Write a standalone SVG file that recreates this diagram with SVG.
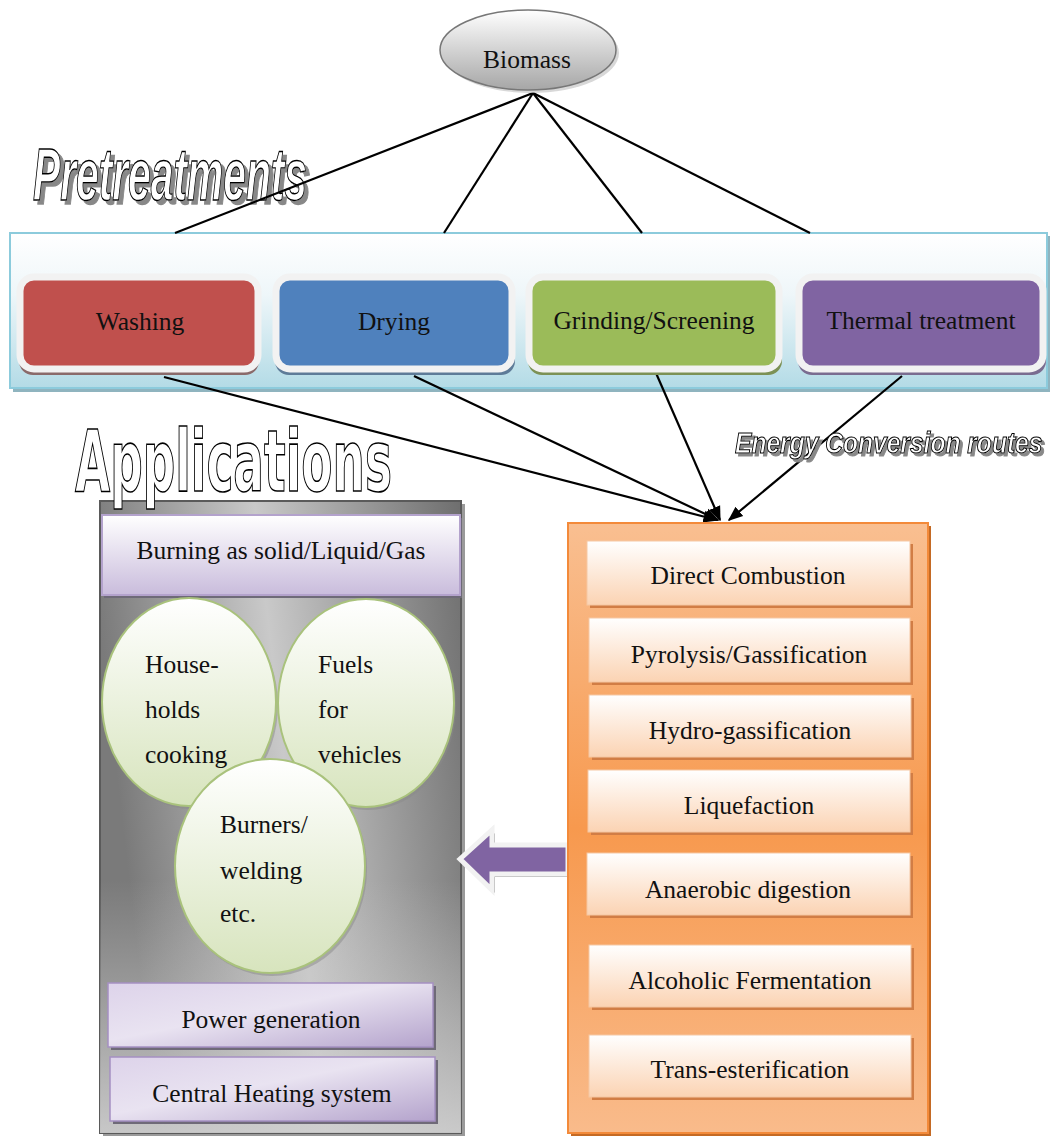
<svg xmlns="http://www.w3.org/2000/svg" width="1055" height="1136" viewBox="0 0 1055 1136">
<defs>
<linearGradient id="gBio" x1="0" y1="0" x2="0" y2="1"><stop offset="0" stop-color="#ffffff"/><stop offset="1" stop-color="#a6a6a6"/></linearGradient>
<linearGradient id="gPre" x1="0" y1="0" x2="0" y2="1"><stop offset="0" stop-color="#ffffff"/><stop offset="0.4" stop-color="#eef6f9"/><stop offset="1" stop-color="#b3dbe6"/></linearGradient>
<linearGradient id="gGray" x1="0" y1="0.2" x2="1" y2="0"><stop offset="0" stop-color="#7a7a7a"/><stop offset="0.45" stop-color="#c9c9c9"/><stop offset="1" stop-color="#6e6e6e"/></linearGradient>
<linearGradient id="gGray2" x1="0" y1="0" x2="0" y2="1"><stop offset="0" stop-color="#000" stop-opacity="0"/><stop offset="0.6" stop-color="#c8c8c8" stop-opacity="0"/><stop offset="1" stop-color="#d0d0d0" stop-opacity="0.9"/></linearGradient>
<linearGradient id="gLav" x1="0" y1="0" x2="0" y2="1"><stop offset="0" stop-color="#ffffff"/><stop offset="1" stop-color="#c9bcdc"/></linearGradient>
<linearGradient id="gLav2" x1="0" y1="0" x2="1" y2="1"><stop offset="0" stop-color="#ddd3ea"/><stop offset="0.45" stop-color="#e9e3f1"/><stop offset="1" stop-color="#b4a3cc"/></linearGradient>
<linearGradient id="gGreen" x1="0" y1="0" x2="0" y2="1"><stop offset="0" stop-color="#ffffff"/><stop offset="1" stop-color="#d7e4bd"/></linearGradient>
<linearGradient id="gOrange" x1="0" y1="0" x2="0" y2="1"><stop offset="0" stop-color="#f9bf91"/><stop offset="0.5" stop-color="#f7994e"/><stop offset="1" stop-color="#f9bb8b"/></linearGradient>
<linearGradient id="gPeach" x1="0" y1="0" x2="0" y2="1"><stop offset="0" stop-color="#ffffff"/><stop offset="1" stop-color="#fbd3b3"/></linearGradient>
<marker id="ah2" viewBox="0 0 10 10" refX="9" refY="5" markerWidth="15" markerHeight="15" markerUnits="userSpaceOnUse" orient="auto"><path d="M0,1 L10,5 L0,9 z" fill="#000"/></marker>
<filter id="tsh" x="-5%" y="-20%" width="115%" height="150%">
<feOffset in="SourceAlpha" dx="4" dy="4" result="o"/>
<feFlood flood-color="#888888"/>
<feComposite in2="o" operator="in" result="s"/>
<feMerge><feMergeNode in="s"/><feMergeNode in="SourceGraphic"/></feMerge>
</filter>
<filter id="tsh2" x="-5%" y="-30%" width="115%" height="170%">
<feOffset in="SourceAlpha" dx="3" dy="3" result="o"/>
<feFlood flood-color="#888888"/>
<feComposite in2="o" operator="in" result="s"/>
<feMerge><feMergeNode in="s"/><feMergeNode in="SourceGraphic"/></feMerge>
</filter>
</defs>
<style>
.t{font-family:"Liberation Serif","Times New Roman",serif;font-size:25.5px;fill:#111;text-anchor:middle}
.tl{font-family:"Liberation Serif","Times New Roman",serif;font-size:25.5px;fill:#111}
.out{font-family:"Liberation Sans Narrow","Liberation Sans",Arial,sans-serif;font-weight:bold;fill:#fff;stroke:#000;stroke-width:1.4}
.en{font-family:"Liberation Sans",Arial,sans-serif;font-weight:bold;font-style:italic;font-size:30px;fill:#fff;stroke:#000;stroke-width:1.1}
.app{font-family:"DejaVu Sans","Liberation Sans",Arial,sans-serif;font-weight:bold;fill:#fff;stroke:#000;stroke-width:1.6}
.pre{stroke:#f2f2f2;stroke-width:7}
.inner{fill:url(#gPeach);stroke:#f5c7a3;stroke-width:1}
.ishadow{fill:#d17d45}
.lav{fill:url(#gLav2);stroke:#a590c2;stroke-width:1.5}
.circ{fill:url(#gGreen);stroke:#a9c27c;stroke-width:2}
.con{stroke:#000;stroke-width:2.2;fill:none}
</style>

<!-- Titles -->
<g id="title-pretreatments" filter="url(#tsh)">
<text class="out" x="33" y="200" font-size="74" font-style="italic" textLength="274" lengthAdjust="spacingAndGlyphs">Pretreatments</text>
</g>

<!-- Pretreatment container -->
<g id="pretreatments">
<rect x="13" y="236" width="1037" height="156" fill="#8fb4bf"/>
<rect x="10" y="233" width="1037" height="155" fill="url(#gPre)" stroke="#8ccbdc" stroke-width="2"/>
</g>

<!-- Connectors -->
<g id="connectors">
<line class="con" x1="533" y1="93" x2="175" y2="233"/>
<line class="con" x1="533" y1="93" x2="444" y2="233"/>
<line class="con" x1="533" y1="93" x2="642" y2="233"/>
<line class="con" x1="533" y1="93" x2="810" y2="233"/>
<line class="con" x1="164" y1="377" x2="717" y2="520" marker-end="url(#ah2)"/>
<line class="con" x1="414" y1="376" x2="718" y2="520" marker-end="url(#ah2)"/>
<line class="con" x1="656" y1="373" x2="720" y2="520" marker-end="url(#ah2)"/>
<line class="con" x1="902" y1="376" x2="729" y2="520" marker-end="url(#ah2)"/>
</g>

<g id="biomass">
<ellipse cx="531" cy="53" rx="88" ry="40" fill="#c8c8c8" opacity="0.7"/>
<ellipse cx="528" cy="50" rx="88" ry="40" fill="url(#gBio)" stroke="#777" stroke-width="1.5"/>
<text class="t" x="527" y="68">Biomass</text>
</g>

<g id="washing">
<rect x="19" y="279" width="240" height="96" rx="14" fill="#8a6a6a"/>
<rect x="20" y="277" width="238" height="92" rx="14" fill="#c0504d" class="pre"/>
<text class="t" x="140" y="330">Washing</text>
</g>
<g id="drying">
<rect x="275" y="279" width="240" height="96" rx="14" fill="#5e7b98"/>
<rect x="276" y="277" width="236" height="92" rx="14" fill="#4f81bd" class="pre"/>
<text class="t" x="394" y="330">Drying</text>
</g>
<g id="grinding">
<rect x="528" y="279" width="254" height="96" rx="14" fill="#7c9155"/>
<rect x="529" y="277" width="250" height="92" rx="14" fill="#9bbb59" class="pre"/>
<text class="t" x="654" y="329">Grinding/Screening</text>
</g>
<g id="thermal">
<rect x="798" y="279" width="248" height="96" rx="14" fill="#7a6c90"/>
<rect x="799" y="277" width="244" height="92" rx="14" fill="#8064a2" class="pre"/>
<text class="t" x="921" y="329">Thermal treatment</text>
</g>

<g id="title-energy" filter="url(#tsh2)">
<text class="en" transform="translate(735,453) scale(0.82,1)" x="0" y="0">Energy Conversion routes</text>
</g>

<!-- Applications -->
<g id="applications">
<rect x="103" y="504" width="362" height="632" fill="#9a9a9a"/>
<rect x="100" y="501" width="361" height="632" fill="url(#gGray)" stroke="#5a5a5a" stroke-width="2"/>
<rect x="100" y="501" width="361" height="632" fill="url(#gGray2)"/>
</g>
<g id="title-applications">
<text class="app" x="75" y="491" font-size="86" textLength="317" lengthAdjust="spacingAndGlyphs">Applications</text>
</g>

<g id="burning">
<rect x="104" y="518" width="358" height="80" fill="#6e6a78"/>
<rect x="102" y="515" width="358" height="80" fill="url(#gLav)" stroke="#b3a2cc" stroke-width="2"/>
<text class="t" x="281" y="559">Burning as solid/Liquid/Gas</text>
</g>

<g id="households">
<ellipse cx="191" cy="705" rx="87" ry="104" fill="#8a8a8a" opacity="0.5"/>
<ellipse cx="189" cy="702" rx="87" ry="104" class="circ"/>
<text class="tl" x="145" y="673">House-</text>
<text class="tl" x="145" y="718">holds</text>
<text class="tl" x="145" y="763">cooking</text>
</g>
<g id="fuels">
<ellipse cx="368" cy="706" rx="88" ry="104" fill="#8a8a8a" opacity="0.5"/>
<ellipse cx="366" cy="703" rx="88" ry="104" class="circ"/>
<text class="tl" x="318" y="673">Fuels</text>
<text class="tl" x="318" y="718">for</text>
<text class="tl" x="318" y="763">vehicles</text>
</g>
<g id="burners">
<ellipse cx="272" cy="869" rx="95" ry="107" fill="#8a8a8a" opacity="0.5"/>
<ellipse cx="270" cy="866" rx="95" ry="107" class="circ"/>
<text class="tl" x="220" y="833">Burners/</text>
<text class="tl" x="220" y="879">welding</text>
<text class="tl" x="220" y="922">etc.</text>
</g>

<g id="power">
<rect x="111" y="986" width="325" height="64" fill="#6f6a78"/>
<rect x="108" y="983" width="325" height="64" class="lav"/>
<text class="t" x="271" y="1028">Power generation</text>
</g>
<g id="heating">
<rect x="113" y="1060" width="325" height="64" fill="#6f6a78"/>
<rect x="110" y="1057" width="325" height="64" class="lav"/>
<text class="t" x="272" y="1102">Central Heating system</text>
</g>

<!-- Big arrow -->
<g id="arrow">
<path d="M460,859 L492,830 L492,845 L568,845 L568,874 L492,874 L492,890 Z" fill="#a0a0a0" transform="translate(3,3)"/>
<path d="M460,859 L492,830 L492,845 L568,845 L568,874 L492,874 L492,890 Z" fill="#8064a2" stroke="#f2f2f2" stroke-width="5" stroke-linejoin="miter"/>
</g>

<!-- Energy conversion routes -->
<g id="energy">
<rect x="571" y="526" width="360" height="610" fill="#c46a24"/>
<rect x="568" y="523" width="360" height="610" fill="url(#gOrange)" stroke="#f38a3a" stroke-width="2"/>
</g>
<g id="direct">
<rect x="590" y="544" width="323" height="64" class="ishadow"/>
<rect x="587" y="541" width="323" height="64" class="inner"/>
<text class="t" x="748" y="584">Direct Combustion</text>
</g>
<g id="pyrolysis">
<rect x="592" y="621" width="321" height="64" class="ishadow"/>
<rect x="589" y="618" width="321" height="64" class="inner"/>
<text class="t" x="749" y="663">Pyrolysis/Gassification</text>
</g>
<g id="hydro">
<rect x="592" y="698" width="322" height="62" class="ishadow"/>
<rect x="589" y="695" width="322" height="62" class="inner"/>
<text class="t" x="750" y="739">Hydro-gassification</text>
</g>
<g id="liquefaction">
<rect x="591" y="773" width="322" height="62" class="ishadow"/>
<rect x="588" y="770" width="322" height="62" class="inner"/>
<text class="t" x="749" y="814">Liquefaction</text>
</g>
<g id="anaerobic">
<rect x="590" y="856" width="323" height="62" class="ishadow"/>
<rect x="587" y="853" width="323" height="62" class="inner"/>
<text class="t" x="748" y="898">Anaerobic digestion</text>
</g>
<g id="alcoholic">
<rect x="592" y="948" width="322" height="62" class="ishadow"/>
<rect x="589" y="945" width="322" height="62" class="inner"/>
<text class="t" x="750" y="989">Alcoholic Fermentation</text>
</g>
<g id="trans">
<rect x="592" y="1038" width="322" height="62" class="ishadow"/>
<rect x="589" y="1035" width="322" height="62" class="inner"/>
<text class="t" x="750" y="1078">Trans-esterification</text>
</g>
</svg>
